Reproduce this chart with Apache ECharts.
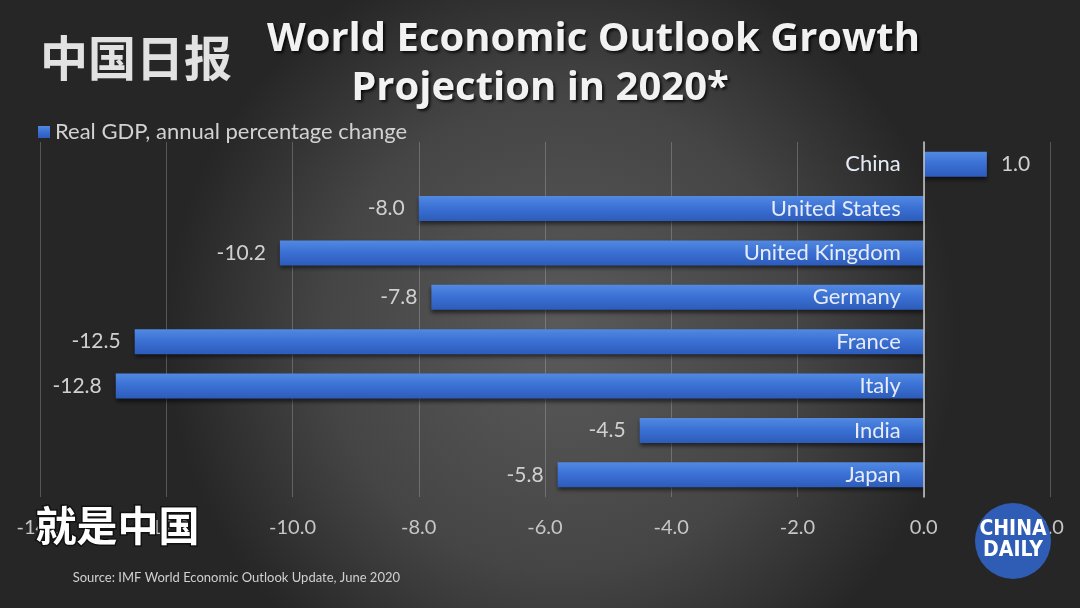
<!DOCTYPE html>
<html>
<head>
<meta charset="utf-8">
<script src="https://cdn.jsdelivr.net/npm/echarts@6/dist/echarts.min.js"></script>
<style>html,body{margin:0;padding:0;background:#333;}#c{width:1080px;height:608px;}</style>
</head>
<body>
<div id="c"></div>
<script>
const categories = ['China', 'United States', 'United Kingdom', 'Germany', 'France', 'Italy', 'India', 'Japan'];
const gdpValues = [1.0, -8.0, -10.2, -7.8, -12.5, -12.8, -4.5, -5.8];
const seriesName = 'Real GDP, annual percentage change';
const xTickMin = -14, xTickMax = 2, xTickStep = 2;
const titleLine1 = 'World Economic Outlook Growth';
const titleLine2 = 'Projection in 2020*';
const sourceText = 'Source: IMF World Economic Outlook Update, June 2020';

const FONT = 'Lato';
const GRID_RIGHT = 30;
const chart = echarts.init(document.getElementById('c'));

const barData = gdpValues.map(v => ({
  value: v,
  label: { position: v < 0 ? 'left' : 'right' }
}));

const titleStyle = { fontFamily: 'Open Sans', fontWeight: 'bold', fontSize: 40, color: '#f2f2f2',
  textShadowColor: 'rgba(0,0,0,0.8)', textShadowBlur: 3, textShadowOffsetX: 2, textShadowOffsetY: 2 };

chart.setOption({
  backgroundColor: {
    type: 'radial', x: 0.52, y: 0.55, r: 0.65,
    colorStops: [
      { offset: 0, color: '#5a5a5a' },
      { offset: 0.6, color: '#454545' },
      { offset: 1, color: '#262626' }
    ]
  },
  animation: false,
  title: [
    { text: titleLine1, left: 262, top: 15, textStyle: titleStyle },
    { text: titleLine2, left: 'center', top: 64, textStyle: titleStyle }
  ],
  legend: {
    left: 33, top: 116, icon: 'rect', itemWidth: 12, itemHeight: 12, itemGap: 6,
    textStyle: { fontFamily: FONT, fontSize: 22, color: '#d2d2d2' },
    data: [seriesName]
  },
  grid: { left: 40, right: GRID_RIGHT, top: 142, bottom: 111, containLabel: false, outerBoundsMode: 'none' },
  xAxis: {
    type: 'value', min: xTickMin, max: xTickMax, interval: xTickStep,
    axisLine: { show: false }, axisTick: { show: false },
    splitLine: { show: true, lineStyle: { color: 'rgba(200,200,200,0.30)', width: 1 } },
    axisLabel: { color: '#c6c6c6', fontFamily: FONT, fontSize: 20, margin: 21,
      formatter: v => v.toFixed(1) }
  },
  yAxis: {
    type: 'category', inverse: true, data: categories, z: 10,
    position: 'right', offset: 0,
    axisLine: { onZero: false, lineStyle: { color: '#c8c8c8', width: 1.5 } },
    axisTick: { show: false },
    axisLabel: { inside: true, color: '#e6ecf6', fontFamily: FONT, fontSize: 22, margin: 23 }
  },
  series: [{
    name: seriesName, type: 'bar', data: barData, barWidth: 25,
    itemStyle: {
      color: { type: 'linear', x: 0, y: 0, x2: 0, y2: 1, colorStops: [
        { offset: 0, color: '#5289e2' }, { offset: 0.5, color: '#3a6fd3' }, { offset: 1, color: '#2d5cba' } ] },
      shadowColor: 'rgba(0,0,0,0.55)', shadowBlur: 4, shadowOffsetY: 3
    },
    label: { show: true, distance: 14, color: '#d0d0d0', fontFamily: FONT, fontSize: 21,
      formatter: p => p.value.toFixed(1) }
  }],
  graphic: [
    { type: 'text', left: 40, top: 34, z: 20,
      style: { text: '中国日报', fill: '#e2e2e2', font: 'bold 48px "Noto Sans CJK SC"' } },
    { type: 'text', left: 34, top: 503, z: 20,
      style: { text: '就是中国', fill: '#ffffff', stroke: '#111', lineWidth: 3,
        font: 'bold 41px "Noto Sans CJK SC"' } },
    { type: 'circle', shape: { cx: 1013, cy: 541, r: 38 }, z: 20, style: { fill: '#2f5db5' } },
    { type: 'text', x: 1013, y: 530, z: 21,
      style: { text: 'CHINA', fill: '#ffffff', font: 'bold 21px "DejaVu Sans Condensed"', align: 'center', verticalAlign: 'middle' } },
    { type: 'text', x: 1013, y: 551, z: 21,
      style: { text: 'DAILY', fill: '#ffffff', font: 'bold 21px "DejaVu Sans Condensed"', align: 'center', verticalAlign: 'middle' } },
    { type: 'text', right: 680, top: 571, z: 20,
      style: { text: sourceText, fill: '#d0d0d0', font: '13px Lato' } }
  ]
});

// place the category axis on the zero line of the value axis
const zeroX = chart.convertToPixel({ xAxisIndex: 0 }, 0);
const gridRightX = chart.getWidth() - GRID_RIGHT;
chart.setOption({ yAxis: { offset: zeroX - gridRightX } });
</script>
</body>
</html>
